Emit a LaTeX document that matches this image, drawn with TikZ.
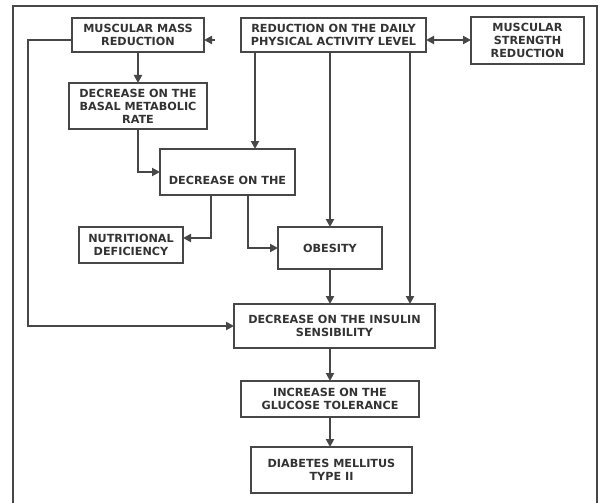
\documentclass[tikz,border=0pt]{standalone}
\usepackage{fontspec}
\setmainfont{DejaVu Sans}
\usetikzlibrary{arrows.meta}

\begin{document}
\begin{tikzpicture}%
    [x = 1pt, y = -1pt, line width = 2pt, draw = black!72,
     box/.style = {draw = black!72, rectangle, inner sep = 0pt, outer sep = 0pt, align = center,
                   text = black!80, font = \fontsize{11.2}{13}\selectfont\bfseries},
     tip/.style = {-{Triangle[length = 8pt, width = 8pt]}}]
    \useasboundingbox (0, 0) rectangle (603, 503);
    \draw (13, 504) -- (13, 6) -- (597, 6) -- (597, 504);

    \node [box, minimum width = 132, minimum height = 34] (mass) at (138, 35) {MUSCULAR MASS\\REDUCTION};
    \node [box, minimum width = 185, minimum height = 34] (daily) at (333.5, 35) {REDUCTION ON THE DAILY\\PHYSICAL ACTIVITY LEVEL};
    \node [box, minimum width = 113, minimum height = 47] (strength) at (527.5, 40.5) {MUSCULAR\\STRENGTH\\REDUCTION};
    \node [box, minimum width = 138, minimum height = 46] (basal) at (138, 106) {DECREASE ON THE\\BASAL METABOLIC\\RATE};
    \node [box, minimum width = 135, minimum height = 46] (intake) at (227.5, 172) {\mbox{}\\\mbox{}\\DECREASE ON THE};
    \node [box, minimum width = 104, minimum height = 36] (nutri) at (131, 245) {NUTRITIONAL\\DEFICIENCY};
    \node [box, minimum width = 104, minimum height = 42] (obes) at (330, 248) {OBESITY};
    \node [box, minimum width = 201, minimum height = 44] (insulin) at (334.5, 326) {DECREASE ON THE INSULIN\\SENSIBILITY};
    \node [box, minimum width = 178, minimum height = 36] (glucose) at (330, 399) {INCREASE ON THE\\GLUCOSE TOLERANCE};
    \node [box, minimum width = 161, minimum height = 46] (diabetes) at (331.5, 470) {DIABETES MELLITUS\\TYPE II};
    \coordinate (massin) at (215, 40);

    \draw [tip] (massin) -- ([yshift = -5pt]mass.east);
    \draw [{Triangle[length = 8pt, width = 8pt]}-{Triangle[length = 8pt, width = 8pt]}] ([yshift = -5pt]daily.east) -- ([yshift = -5pt]daily.east -| strength.west);
    \draw [tip] ([yshift = -5pt]mass.west) -- ++(-44, 0) |- (insulin.west);
    \draw [tip] (mass.south) -- (basal.north);
    \draw [tip] (basal.south) |- (intake.west);
    \draw [tip] ([xshift = -78.5pt]daily.south) -- ([xshift = -78.5pt]daily.south |- intake.north);
    \draw [tip] (obes.north |- daily.south) -- (obes.north);
    \draw [tip] ([xshift = 76.5pt]daily.south) -- ([xshift = 76.5pt]daily.south |- insulin.north);
    \draw [tip] ([xshift = -16.5pt]intake.south) |- ([yshift = 7pt]nutri.east);
    \draw [tip] ([xshift = 20.5pt]intake.south) |- (obes.west);
    \draw [tip] (obes.south) -- (obes.south |- insulin.north);
    \draw [tip] (glucose.north |- insulin.south) -- (glucose.north);
    \draw [tip] (glucose.south) -- (glucose.south |- diabetes.north);
\end{tikzpicture}
\end{document}
